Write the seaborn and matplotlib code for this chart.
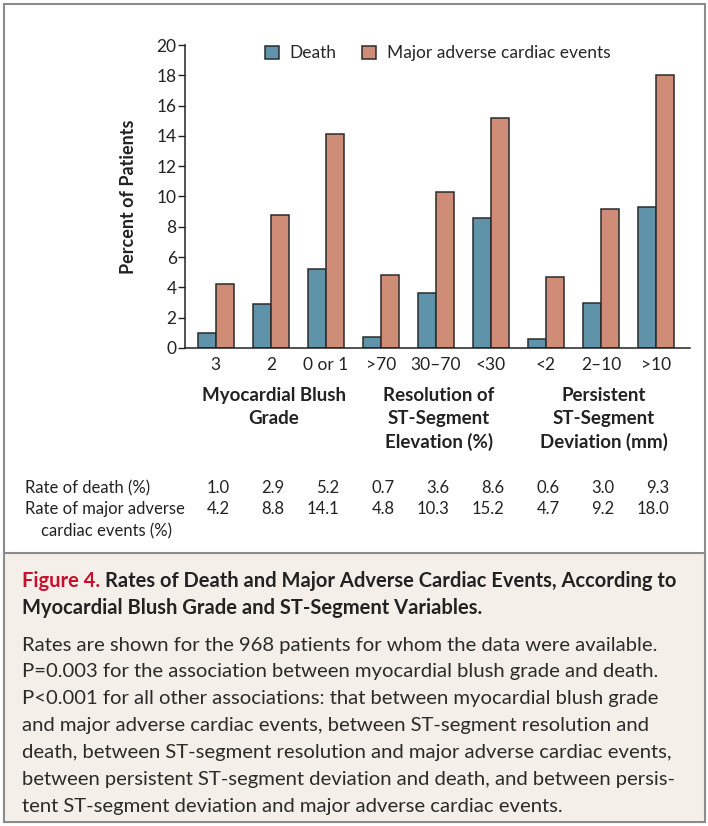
import pandas as pd
import numpy as np
import matplotlib.pyplot as plt
import matplotlib.transforms as mtransforms
import seaborn as sns
from matplotlib.patches import Rectangle

# data
groups = ['3', '2', '0 or 1', '>70', '30\u201370', '<30', '<2', '2\u201310', '>10']
death = [1.0, 2.9, 5.2, 0.7, 3.6, 8.6, 0.6, 3.0, 9.3]
mace = [4.2, 8.8, 14.1, 4.8, 10.3, 15.2, 4.7, 9.2, 18.0]
sections = ['Myocardial Blush\nGrade', 'Resolution of\nST-Segment\nElevation (%)',
            'Persistent\nST-Segment\nDeviation (mm)']
series = ['Death', 'Major adverse cardiac events']

df = pd.DataFrame({
    'group': groups * 2,
    'value': death + mace,
    'series': [series[0]] * len(groups) + [series[1]] * len(groups),
})

sns.set_style('white')
plt.rcParams['font.family'] = ['Lato', 'DejaVu Sans']

fig = plt.figure(figsize=(7.08, 8.26), dpi=100)
W, H = 708, 826

# frame and caption panel
fig.patches.append(Rectangle((4 / W, 4 / H), 701 / W, 1 - 8 / H, transform=fig.transFigure,
                             facecolor='white', edgecolor='#8c8c8c', lw=1.5, zorder=-2))
fig.patches.append(Rectangle((4 / W, 4 / H), 701 / W, (826 - 553 - 4) / H, transform=fig.transFigure,
                             facecolor='#f4f0e9', edgecolor='#8c8c8c', lw=1.5, zorder=-1))

ax = fig.add_axes([185 / W, 1 - 348 / H, (690 - 185) / W, (348 - 45) / H])
colors = ['#5f93aa', '#cf8c77']
sns.barplot(data=df, x='group', y='value', hue='series', palette=colors,
            width=0.66, edgecolor='#2b2b2b', linewidth=1.1, ax=ax, saturation=1)

ax.set_ylim(0, 20)
ax.set_xlim(-0.56, 8.62)
ax.set_yticks(range(0, 21, 2))
ax.set_xlabel('')
ax.set_ylabel('Percent of Patients', fontsize=13, fontweight='bold', labelpad=14, color='#222222')
sns.despine(ax=ax)
for s in ['left', 'bottom']:
    ax.spines[s].set_color('#222222')
    ax.spines[s].set_linewidth(1.1)
ax.tick_params(axis='y', left=True, length=5, width=1, color='#222222',
               labelsize=12.5, labelcolor='#222222', pad=1)
ax.tick_params(axis='x', bottom=False, labelsize=12.5, labelcolor='#222222', pad=3)
ax.set_facecolor('none')

leg = ax.legend(loc='upper center', bbox_to_anchor=(0.5, 1.05), ncol=2, frameon=False,
                fontsize=12.5, handlelength=0.8, handleheight=0.8, columnspacing=1.5,
                handletextpad=0.6)

# section labels under the tick labels
trans = ax.get_xaxis_transform()
sec_centers = [1, 4, 7]
for c, s in zip(sec_centers, sections):
    ax.text(c + 0.05, -0.13, s, transform=trans, ha='center', va='top', fontsize=13.5,
            fontweight='bold', color='#222222', linespacing=1.4)

# table of rates
row_y = [-0.462, -0.532]
lab_trans = mtransforms.blended_transform_factory(fig.transFigure, ax.transAxes)
ax.text(25 / W, row_y[0], 'Rate of death (%)', transform=lab_trans, ha='left', va='center',
        fontsize=12, color='#222222')
ax.text(25 / W, row_y[1], 'Rate of major adverse', transform=lab_trans, ha='left', va='center',
        fontsize=12, color='#222222')
ax.text(41 / W, row_y[1] - 0.072, 'cardiac events (%)', transform=lab_trans, ha='left', va='center',
        fontsize=12, color='#222222')
for i in range(len(groups)):
    ax.text(i + 0.25, row_y[0], f'{death[i]:.1f}', transform=trans, ha='right', va='center',
            fontsize=12, color='#222222')
    ax.text(i + 0.25, row_y[1], f'{mace[i]:.1f}', transform=trans, ha='right', va='center',
            fontsize=12, color='#222222')

# caption
x0 = 22 / W
t1 = fig.text(x0, 1 - 581 / H, 'Figure 4.', fontsize=14.5, fontweight='bold', color='#c8102e',
              va='center', ha='left')
fig.canvas.draw()
bb = t1.get_window_extent()
fig.text(bb.x1 / W + 5 / W, 1 - 581 / H,
         'Rates of Death and Major Adverse Cardiac Events, According to',
         fontsize=14.5, fontweight='bold', color='#222222', va='center', ha='left')
fig.text(x0, 1 - 608 / H, 'Myocardial Blush Grade and ST-Segment Variables.',
         fontsize=14.5, fontweight='bold', color='#222222', va='center', ha='left')

body = ['Rates are shown for the 968 patients for whom the data were available.',
        'P=0.003 for the association between myocardial blush grade and death.',
        'P<0.001 for all other associations: that between myocardial blush grade',
        'and major adverse cardiac events, between ST-segment resolution and',
        'death, between ST-segment resolution and major adverse cardiac events,',
        'between persistent ST-segment deviation and death, and between persis-',
        'tent ST-segment deviation and major adverse cardiac events.']
for k, line in enumerate(body):
    fig.text(x0, 1 - (645 + 26.9 * k) / H, line, fontsize=14.6, color='#2b2b2b',
             va='center', ha='left')

fig.savefig('out.png', dpi=100)
